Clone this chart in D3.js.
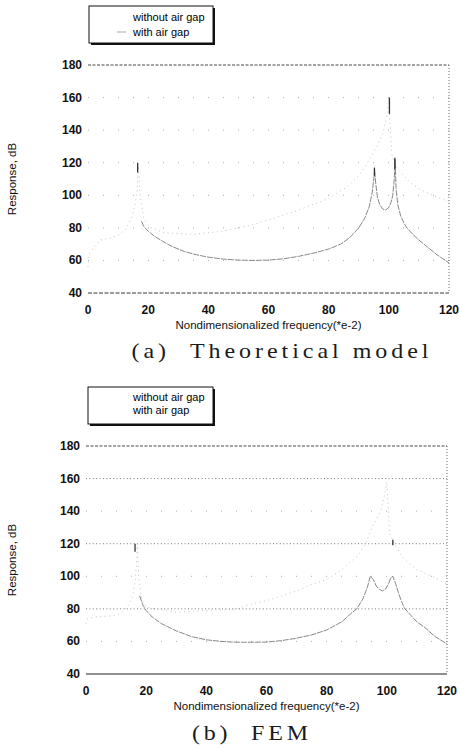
<!DOCTYPE html>
<html>
<head>
<meta charset="utf-8">
<script src="https://cdn.jsdelivr.net/npm/d3@7/dist/d3.min.js"></script>
<style>
  html, body { margin: 0; padding: 0; background: #fff; }
  svg { display: block; }
</style>
</head>
<body>
<svg id="chart" width="460" height="748"></svg>
<script>
// ---------------- DATA ----------------
const seriesNames = ["without air gap", "with air gap"];
const captions = ["(a)\u00a0\u00a0Theoretical model", "(b)\u00a0\u00a0FEM"];
const xTicks = [0, 20, 40, 60, 80, 100, 120];
const yTicks = [40, 60, 80, 100, 120, 140, 160, 180];
const xTitle = "Nondimensionalized frequency(*e-2)";
const yTitle = "Response, dB";

// (a) Theoretical model
const theoryWithout = [
  [17.8, 84], [18.5, 81], [20, 78], [22, 75], [25, 71.5], [28, 68.5], [32, 65.5],
  [36, 63.5], [40, 62], [45, 60.8], [50, 60.2], [55, 60], [60, 60.2], [65, 61],
  [70, 62.5], [75, 64.5], [80, 67], [84, 70], [87, 74], [90, 80], [92, 86],
  [93.5, 93], [94.5, 102], [95, 110], [95.3, 116], [95.6, 108], [96.2, 99],
  [97, 94], [98, 91.5], [99, 91], [100, 92.5], [100.8, 96], [101.3, 100],
  [101.8, 110], [102.1, 122], [102.4, 104], [103, 94], [104, 87], [105, 83],
  [106, 80], [108, 76], [110, 72.5], [113, 68], [116, 63.5], [120, 58.5]
];
const theoryWith = [
  [0, 56], [0.4, 64], [4, 72.5], [7, 73.5], [10, 75.5], [12.5, 79], [14.5, 86],
  [15.5, 93], [16.3, 103], [16.8, 118], [17.3, 100], [18.5, 86], [20, 81],
  [25, 77], [35, 76], [45, 78], [55, 82], [62, 86], [70, 91], [80, 98],
  [86, 105], [90, 112], [93, 120], [96, 130], [98, 138], [99.5, 150],
  [100, 160], [100.5, 140], [101, 125], [102, 118], [104, 114], [107, 108],
  [110, 104], [114, 100.5], [118, 97.5], [120, 96]
];
const theoryPeaks = [[16.5, 114, 120], [95.2, 112, 117], [102, 116, 123], [100.2, 150, 160]];

// (b) FEM
const femWithout = [
  [17.8, 88], [19, 82], [20, 79], [22, 75], [25, 71], [30, 66.5], [35, 63],
  [40, 61], [45, 60], [50, 59.5], [55, 59.5], [60, 59.6], [65, 60.5], [70, 62],
  [75, 64], [80, 67], [85, 72], [88, 77], [90, 80], [92, 86], [93.5, 93],
  [94.5, 100], [95.5, 98], [96.5, 94], [97.5, 92], [98.5, 91], [99.5, 92],
  [100.5, 95], [101.3, 99], [102, 100], [103, 95], [104, 89], [105, 84],
  [106, 80], [108, 76], [110, 72], [113, 68], [116, 63], [120, 58.5]
];
const femWith = [
  [0, 71], [0.5, 74], [3, 75], [7, 75.5], [10, 76], [12, 78], [14, 82],
  [15.5, 88], [16.3, 96], [16.8, 108], [17.1, 120], [17.5, 100], [18.5, 86],
  [20, 81], [30, 78], [40, 79], [50, 80], [55, 83], [60, 85], [65, 88],
  [70, 91], [75, 95], [80, 98], [85, 104], [90, 112], [93, 120], [95, 130],
  [98, 140], [99.5, 152], [100, 158], [100.5, 140], [101, 126], [103, 118],
  [106, 110], [110, 104], [115, 100], [120, 95]
];
const femPeaks = [[16.3, 115, 120], [102, 119, 122.5]];

// ---------------- LAYOUT ----------------
const panels = [
  { without: theoryWithout, withGap: theoryWith, peaks: theoryPeaks, caption: captions[0],
    x0: 88, x1: 449, yTop: 65, yBot: 293,
    legend: { x: 89, y: 6, w: 124, h: 37, t1: 21, t2: 36, sample: true },
    capY: 358, capLen: 297, capX: 280,
    gridMajor: [], gridMinor: [60, 80, 100, 120, 140, 160], bottomSolid: false },
  { without: femWithout, withGap: femWith, peaks: femPeaks, caption: captions[1],
    x0: 86, x1: 447, yTop: 446, yBot: 674,
    legend: { x: 88, y: 387, w: 125, h: 37, t1: 401, t2: 414, sample: false },
    capY: 740, capLen: 116, capX: 250,
    gridMajor: [80, 120, 160], gridMinor: [60, 100, 140], bottomSolid: true }
];

const svg = d3.select("#chart");
const sans = "'Liberation Sans', Arial, sans-serif";

panels.forEach(p => {
  const g = svg.append("g");
  const x = d3.scaleLinear().domain([0, 120]).range([p.x0, p.x1]);
  const y = d3.scaleLinear().domain([40, 180]).range([p.yBot, p.yTop]);

  // gridlines
  g.selectAll(".gmin").data(p.gridMinor).join("line")
    .attr("x1", x(0)).attr("x2", x(120))
    .attr("y1", d => y(d)).attr("y2", d => y(d))
    .attr("stroke", "#999").attr("stroke-width", 0.8)
    .attr("stroke-dasharray", "1,14");
  g.selectAll(".gmaj").data(p.gridMajor).join("line")
    .attr("x1", x(0)).attr("x2", x(120))
    .attr("y1", d => y(d)).attr("y2", d => y(d))
    .attr("stroke", "#555").attr("stroke-width", 0.8)
    .attr("stroke-dasharray", "1,2.4");

  // frame: top, bottom, right
  g.append("line").attr("x1", x(0)).attr("x2", x(120)).attr("y1", y(180)).attr("y2", y(180))
    .attr("stroke", "#333").attr("stroke-width", 0.9).attr("stroke-dasharray", "3,1.5");
  g.append("line").attr("x1", x(0)).attr("x2", x(120)).attr("y1", y(40)).attr("y2", y(40))
    .attr("stroke", "#222").attr("stroke-width", p.bottomSolid ? 1.2 : 0.9)
    .attr("stroke-dasharray", p.bottomSolid ? null : "4,1.5");
  g.append("line").attr("x1", x(120)).attr("x2", x(120)).attr("y1", y(180)).attr("y2", y(40))
    .attr("stroke", "#555").attr("stroke-width", 0.9).attr("stroke-dasharray", "1,2");

  // y tick labels
  g.selectAll(".yt").data(yTicks).join("text")
    .attr("x", p.x0 - 6).attr("y", d => y(d) + 4)
    .attr("text-anchor", "end")
    .attr("font-family", sans).attr("font-size", 12).attr("font-weight", "bold")
    .attr("fill", "#111")
    .text(d => d);
  // x tick labels
  g.selectAll(".xt").data(xTicks).join("text")
    .attr("x", d => x(d)).attr("y", p.yBot + 21)
    .attr("text-anchor", "middle")
    .attr("font-family", sans).attr("font-size", 12).attr("font-weight", "bold")
    .attr("fill", "#111")
    .text(d => d);

  // axis titles
  g.append("text")
    .attr("x", (p.x0 + p.x1) / 2).attr("y", p.yBot + 36)
    .attr("text-anchor", "middle")
    .attr("font-family", sans).attr("font-size", 11.5).attr("fill", "#111")
    .text(xTitle);
  g.append("text")
    .attr("transform", `translate(16,${(p.yTop + p.yBot) / 2}) rotate(-90)`)
    .attr("text-anchor", "middle")
    .attr("font-family", sans).attr("font-size", 11.5).attr("fill", "#111")
    .text(yTitle);

  // curves
  const line = d3.line().x(d => x(d[0])).y(d => y(d[1]));
  g.append("path").datum(p.withGap).attr("d", line)
    .attr("fill", "none").attr("stroke", "#b5b5b5").attr("stroke-width", 0.8)
    .attr("stroke-dasharray", "1,3.5");
  g.append("path").datum(p.without).attr("d", line)
    .attr("fill", "none").attr("stroke", "#555").attr("stroke-width", 0.7)
    .attr("stroke-dasharray", "6,1");
  g.selectAll(".pk").data(p.peaks).join("line")
    .attr("x1", d => x(d[0])).attr("x2", d => x(d[0]))
    .attr("y1", d => y(d[1])).attr("y2", d => y(d[2]))
    .attr("stroke", "#333").attr("stroke-width", 1.3);

  // legend
  const L = p.legend;
  g.append("rect").attr("x", L.x + 2).attr("y", L.y + 2).attr("width", L.w).attr("height", L.h)
    .attr("fill", "#111");
  g.append("rect").attr("x", L.x).attr("y", L.y).attr("width", L.w).attr("height", L.h)
    .attr("fill", "#fff").attr("stroke", "#111").attr("stroke-width", 1);
  g.append("text").attr("x", 133).attr("y", L.t1)
    .attr("font-family", sans).attr("font-size", 11).attr("fill", "#000").text(seriesNames[0]);
  g.append("text").attr("x", 133).attr("y", L.t2)
    .attr("font-family", sans).attr("font-size", 11).attr("fill", "#000").text(seriesNames[1]);
  if (L.sample) {
    g.append("line").attr("x1", 117).attr("x2", 126).attr("y1", L.t2 - 4).attr("y2", L.t2 - 4)
      .attr("stroke", "#aaa").attr("stroke-width", 1);
  }

  // caption (wide serif, as in the printed figure)
  const sx = 1.2;
  g.append("text")
    .attr("transform", `translate(${p.capX},${p.capY}) scale(${sx},1)`)
    .attr("text-anchor", "middle")
    .attr("font-family", "'Liberation Serif', 'Times New Roman', serif")
    .attr("font-size", 20).attr("fill", "#1a1a1a")
    .attr("textLength", p.capLen / sx).attr("lengthAdjust", "spacing")
    .text(p.caption);
});
</script>
</body>
</html>
